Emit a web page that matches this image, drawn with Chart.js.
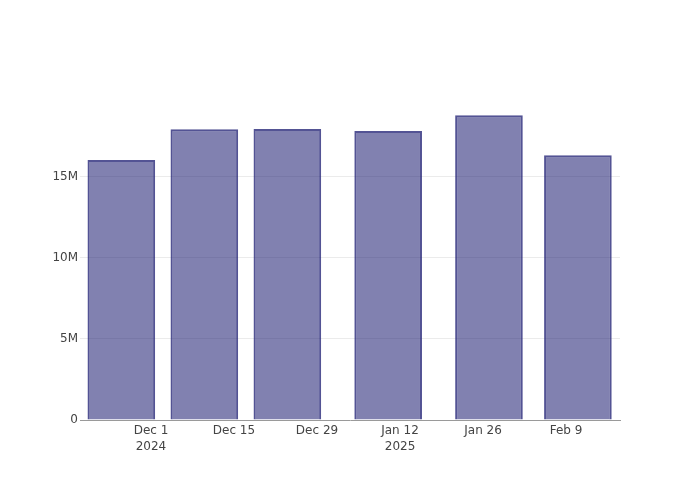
<!DOCTYPE html>
<html>
<head>
<meta charset="utf-8">
<script src="https://cdn.jsdelivr.net/npm/chart.js@4/dist/chart.umd.min.js"></script>
<style>
  html, body { margin: 0; padding: 0; background: #fff; }
  #wrap { width: 700px; height: 500px; position: relative; }
</style>
</head>
<body>
<div id="wrap"><canvas id="c" width="700" height="500"></canvas></div>
<script>
// Data
const categories = ['2024-11-26', '2024-12-10', '2024-12-24', '2025-01-10', '2025-01-27', '2025-02-11'];
const values = [16050000, 17940000, 17960000, 17840000, 18810000, 16340000];
const xTickDates = ['2024-12-01', '2024-12-15', '2024-12-29', '2025-01-12', '2025-01-26', '2025-02-09'];
const xTickLabels = [['Dec 1', '2024'], 'Dec 15', 'Dec 29', ['Jan 12', '2025'], 'Jan 26', 'Feb 9'];
const yTickValues = [0, 5000000, 10000000, 15000000];
const yTickLabels = ['0', '5M', '10M', '15M'];

const DAY = 86400000;
const origin = Date.UTC(2024, 11, 1);
function toDay(s) {
  const p = s.split('-').map(Number);
  return (Date.UTC(p[0], p[1] - 1, p[2]) - origin) / DAY;
}
const xs = categories.map(toDay);
const xTicks = xTickDates.map(toDay);
const points = xs.map((x, i) => ({ x: x, y: values[i] }));

new Chart(document.getElementById('c'), {
  type: 'bar',
  data: {
    datasets: [{
      data: points,
      backgroundColor: 'rgba(25,25,112,0.55)',
      borderColor: 'rgba(25,25,112,0.75)',
      borderWidth: 2,
      borderSkipped: 'bottom',
      categoryPercentage: 1.0,
      barPercentage: 0.815
    }]
  },
  options: {
    responsive: false,
    animation: false,
    events: [],
    layout: { padding: { left: 0, right: 80, top: 100, bottom: 0 } },
    plugins: { legend: { display: false }, tooltip: { enabled: false } },
    scales: {
      x: {
        type: 'linear',
        offset: false,
        min: -11.97,
        max: 79.1,
        afterBuildTicks: (s) => { s.ticks = xTicks.map(v => ({ value: v })); },
        afterFit: (s) => { s.height = 80; },
        grid: { display: false, drawTicks: false, offset: false },
        border: { display: true, color: '#9a9a9a', width: 1 },
        ticks: {
          autoSkip: false,
          maxRotation: 0,
          padding: 3,
          color: '#444',
          font: { family: 'DejaVu Sans', size: 12, lineHeight: 1.35 },
          callback: (v) => {
            const i = xTicks.indexOf(v);
            return i >= 0 ? xTickLabels[i] : '';
          }
        }
      },
      y: {
        min: 0,
        max: 19750000,
        afterBuildTicks: (s) => { s.ticks = yTickValues.map(v => ({ value: v })); },
        afterFit: (s) => { s.width = 80; },
        grid: {
          drawTicks: false,
          color: (ctx) => (ctx.tick && ctx.tick.value === 0) ? 'rgba(0,0,0,0)' : '#ebebeb',
          lineWidth: 1
        },
        border: { display: false },
        ticks: {
          padding: 2,
          color: '#444',
          font: { family: 'DejaVu Sans', size: 12 },
          callback: (v) => {
            const i = yTickValues.indexOf(v);
            return i >= 0 ? yTickLabels[i] : '';
          }
        }
      }
    }
  }
});
</script>
</body>
</html>
